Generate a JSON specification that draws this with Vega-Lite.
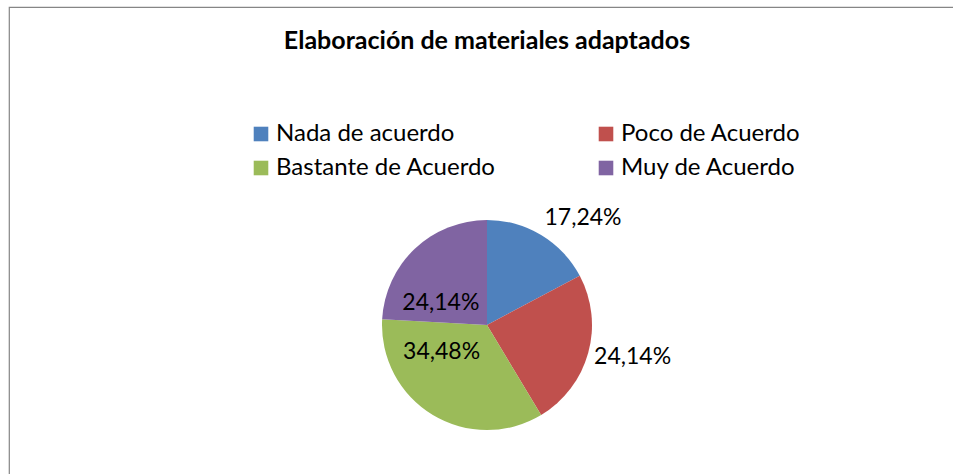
{
  "$schema": "https://vega.github.io/schema/vega-lite/v6.json",
  "autosize": {"type": "none"},
  "padding": {"left": 9, "top": 7, "right": 0, "bottom": 0},
  "width": 956,
  "height": 636,
  "background": "white",
  "view": {"stroke": "#868686", "strokeWidth": 1.2, "fill": "white"},
  "title": {
    "text": "Elaboración de materiales adaptados",
    "font": "Lato",
    "fontSize": 25,
    "fontWeight": "bold",
    "color": "black",
    "anchor": "middle",
    "baseline": "alphabetic",
    "orient": "top",
    "offset": -67
  },
  "config": {
    "locale": {"number": {"decimal": ",", "thousands": ".", "grouping": [3], "currency": ["", " €"]}},
    "view": {"stroke": "#868686", "strokeWidth": 1.2},
    "text": {"font": "Lato", "fontSize": 23, "color": "black"}
  },
  "data": {
    "values": [
      {"categoria": "Nada de acuerdo", "proporcion": 0.1724, "orden": 1},
      {"categoria": "Poco de Acuerdo", "proporcion": 0.2414, "orden": 2},
      {"categoria": "Bastante de Acuerdo", "proporcion": 0.3448, "orden": 3},
      {"categoria": "Muy de Acuerdo", "proporcion": 0.2414, "orden": 4}
    ]
  },
  "encoding": {
    "theta": {"field": "proporcion", "type": "quantitative", "stack": true},
    "order": {"field": "orden", "type": "quantitative", "sort": "ascending"}
  },
  "layer": [
    {
      "mark": {"type": "arc", "outerRadius": 105, "stroke": null},
      "encoding": {
        "color": {
          "field": "categoria",
          "type": "nominal",
          "scale": {
            "domain": ["Nada de acuerdo", "Bastante de Acuerdo", "Poco de Acuerdo", "Muy de Acuerdo"],
            "range": ["#4F81BD", "#9BBB59", "#C0504D", "#8064A2"]
          },
          "legend": {
            "title": null,
            "orient": "none",
            "legendX": 240,
            "legendY": 115,
            "columns": 2,
            "columnPadding": 98,
            "rowPadding": 10,
            "padding": 0,
            "symbolType": "square",
            "symbolSize": 213,
            "symbolStrokeWidth": 0,
            "symbolOpacity": 1,
            "labelFont": "Lato",
            "labelFontSize": 24,
            "labelColor": "black",
            "labelOffset": 3,
            "labelLimit": 400
          }
        }
      }
    },
    {
      "mark": {"type": "text", "radius": 144, "thetaOffset": 0.188, "align": "center", "baseline": "middle"},
      "encoding": {
        "text": {"condition": {"test": "datum.categoria === 'Nada de acuerdo'", "field": "proporcion", "type": "quantitative", "format": ".2%"}, "value": ""}
      }
    },
    {
      "mark": {"type": "text", "radius": 149, "thetaOffset": -0.057, "align": "center", "baseline": "middle"},
      "encoding": {
        "text": {"condition": {"test": "datum.categoria === 'Poco de Acuerdo'", "field": "proporcion", "type": "quantitative", "format": ".2%"}, "value": ""}
      }
    },
    {
      "mark": {"type": "text", "radius": 53, "thetaOffset": 0.489, "align": "center", "baseline": "middle"},
      "encoding": {
        "text": {"condition": {"test": "datum.categoria === 'Bastante de Acuerdo'", "field": "proporcion", "type": "quantitative", "format": ".2%"}, "value": ""}
      }
    },
    {
      "mark": {"type": "text", "radius": 51, "thetaOffset": -0.373, "align": "center", "baseline": "middle"},
      "encoding": {
        "text": {"condition": {"test": "datum.categoria === 'Muy de Acuerdo'", "field": "proporcion", "type": "quantitative", "format": ".2%"}, "value": ""}
      }
    }
  ]
}
